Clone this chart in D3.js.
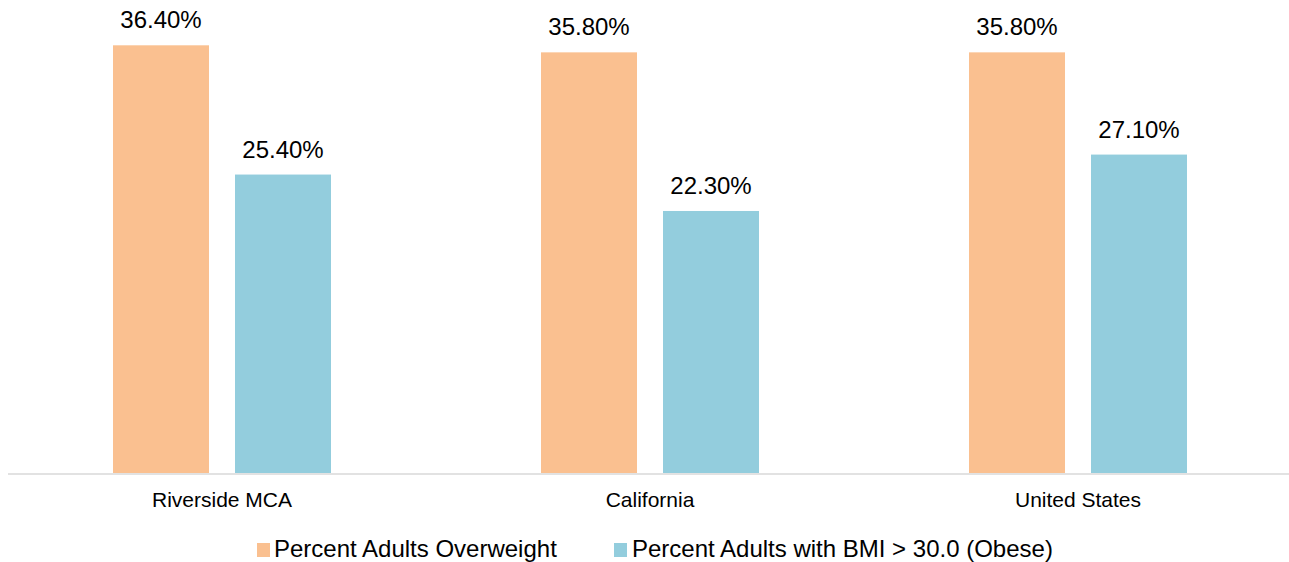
<!DOCTYPE html>
<html>
<head>
<meta charset="utf-8">
<script src="https://cdn.jsdelivr.net/npm/d3@7"></script>
<style>
  html, body { margin: 0; padding: 0; background: #fff; }
  svg { display: block; font-family: "Liberation Sans", Arial, sans-serif; }
</style>
</head>
<body>
<svg id="chart" width="1289" height="562"></svg>
<script>
// Adult weight status by region
const categories = ["Riverside MCA", "California", "United States"];
const seriesNames = ["Percent Adults Overweight", "Percent Adults with BMI > 30.0 (Obese)"];
const overweight = [36.4, 35.8, 35.8];
const obese = [25.4, 22.3, 27.1];
const colors = ["#FAC090", "#93CDDD"];

const rows = categories.map((c, i) => ({ category: c, values: [overweight[i], obese[i]] }));

const svg = d3.select("#chart");
const baseY = 473;

const x0 = d3.scaleBand()
  .domain(categories)
  .range([8, 1292])
  .paddingInner(210 / 428)
  .paddingOuter(105 / 428);

const x1 = d3.scaleBand()
  .domain(d3.range(seriesNames.length))
  .range([0, x0.bandwidth()])
  .paddingInner(26 / 122);

const y = d3.scaleLinear()
  .domain([0, 40])
  .range([baseY, 3]);

const groups = svg.append("g").selectAll("g")
  .data(rows)
  .join("g")
  .attr("transform", d => `translate(${x0(d.category)},0)`);

groups.selectAll("rect")
  .data(d => d.values.map((v, k) => ({ v, k })))
  .join("rect")
  .attr("x", d => x1(d.k))
  .attr("width", x1.bandwidth())
  .attr("y", d => y(d.v))
  .attr("height", d => baseY - y(d.v))
  .attr("fill", d => colors[d.k]);

groups.selectAll("text.val")
  .data(d => d.values.map((v, k) => ({ v, k })))
  .join("text")
  .attr("class", "val")
  .attr("x", d => x1(d.k) + x1.bandwidth() / 2)
  .attr("y", d => y(d.v) - 17)
  .attr("text-anchor", "middle")
  .attr("font-size", 24)
  .attr("fill", "#000")
  .text(d => d.v.toFixed(2) + "%");

// baseline axis
const axis = svg.append("g")
  .attr("transform", `translate(0,${baseY + 1})`)
  .call(d3.axisBottom(x0).tickSize(0).tickPadding(0));
axis.select(".domain")
  .attr("d", "M8,0H1289")
  .attr("stroke", "#D9D9D9")
  .attr("stroke-width", 1.5);
axis.selectAll(".tick text")
  .attr("y", 33)
  .attr("dy", 0)
  .attr("font-size", 21)
  .attr("font-family", "Liberation Sans, Arial, sans-serif")
  .attr("fill", "#000");

// legend
const legendX = [257, 614];
const legend = svg.append("g").selectAll("g")
  .data(seriesNames)
  .join("g")
  .attr("transform", (d, i) => `translate(${legendX[i]},0)`);
legend.append("rect")
  .attr("x", 0).attr("y", 543)
  .attr("width", 13).attr("height", 14)
  .attr("fill", (d, i) => colors[i]);
legend.append("text")
  .attr("x", (d, i) => i === 0 ? 17 : 18)
  .attr("y", 557)
  .attr("font-size", 24)
  .attr("fill", "#000")
  .text(d => d);
</script>
</body>
</html>
